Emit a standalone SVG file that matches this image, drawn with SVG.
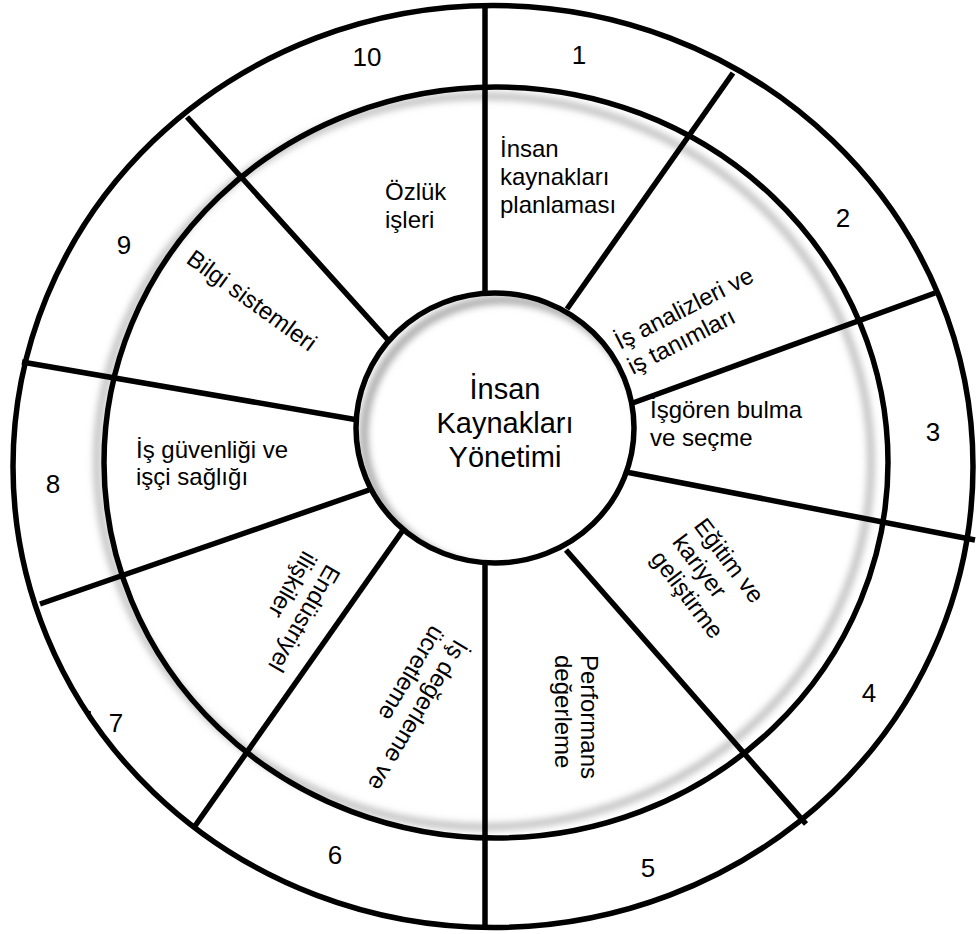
<svg xmlns="http://www.w3.org/2000/svg" width="977" height="934" viewBox="0 0 977 934">
  <style>
    .ring { fill: none; stroke: #000; stroke-width: 5.5; }
    .spoke { stroke: #000; stroke-width: 5.5; stroke-linecap: butt; }
    text { font-family: "Liberation Sans", Arial, Helvetica, sans-serif; fill: #000; }
    .num { font-size: 26px; text-anchor: middle; }
    .lbl { font-size: 24px; }
    .hub { font-size: 29px; text-anchor: middle; }
  </style>
  <defs>
    <filter id="soft" x="-10%" y="-10%" width="120%" height="120%">
      <feGaussianBlur stdDeviation="3.5"/>
    </filter>
    <clipPath id="hubClip">
      <ellipse cx="495" cy="428" rx="139" ry="135"/>
    </clipPath>
  </defs>

  <rect width="977" height="934" fill="#fff"/>

  <!-- rings with a soft drop shadow under the inner one -->
  <g id="rings">
    <ellipse cx="484" cy="461.5" rx="387" ry="365.5" fill="none" stroke="#bdbdbd" stroke-width="7" filter="url(#soft)"/>
    <ellipse class="ring" cx="493" cy="466.5" rx="480" ry="461"/>
    <ellipse class="ring" cx="496" cy="462.5" rx="392" ry="375.5"/>
  </g>

  <!-- spokes between the ten areas -->
  <g id="connectors">
    <line class="spoke" x1="485" y1="5" x2="485" y2="294"/>
    <line class="spoke" x1="733" y1="73" x2="567" y2="309"/>
    <line class="spoke" x1="935" y1="293" x2="630" y2="404"/>
    <line class="spoke" x1="975" y1="540" x2="626" y2="472"/>
    <line class="spoke" x1="806" y1="824" x2="566" y2="550"/>
    <line class="spoke" x1="485" y1="562" x2="485" y2="928"/>
    <line class="spoke" x1="195" y1="826" x2="403" y2="530"/>
    <line class="spoke" x1="40" y1="604" x2="369" y2="490"/>
    <line class="spoke" x1="22" y1="362" x2="358" y2="420"/>
    <line class="spoke" x1="187" y1="117" x2="389" y2="341"/>
    <line x1="90" y1="711" x2="89" y2="718" stroke="#000" stroke-width="2"/>
  </g>

  <!-- central hub with an inner shadow on its upper left -->
  <g id="hub">
    <ellipse cx="495" cy="428" rx="139" ry="135" fill="#fff"/>
    <g clip-path="url(#hubClip)">
      <ellipse cx="503" cy="435" rx="139" ry="135" fill="none" stroke="#a8a8a8" stroke-width="8" filter="url(#soft)"/>
    </g>
    <ellipse class="ring" cx="495" cy="428" rx="139" ry="135"/>
    <text class="hub" x="505" y="399">İnsan</text>
    <text class="hub" x="505" y="433">Kaynakları</text>
    <text class="hub" x="505" y="467">Yönetimi</text>
  </g>

  <g id="area-1">
    <text class="lbl" x="500" y="157">İnsan</text>
    <text class="lbl" x="500" y="185">kaynakları</text>
    <text class="lbl" x="500" y="213">planlaması</text>
    <text class="num" x="579" y="64">1</text>
  </g>

  <g id="area-2">
    <g transform="translate(620,350) rotate(-27)">
      <text class="lbl" x="0" y="0">İş analizleri ve</text>
      <text class="lbl" x="0" y="28">iş tanımları</text>
    </g>
    <text class="num" x="843" y="227">2</text>
  </g>

  <g id="area-3">
    <text class="lbl" x="650" y="418">İşgören bulma</text>
    <text class="lbl" x="650" y="446">ve seçme</text>
    <text class="num" x="933" y="441">3</text>
  </g>

  <g id="area-4">
    <g transform="translate(693,526) rotate(53)">
      <text class="lbl" x="0" y="0">Eğitim ve</text>
      <text class="lbl" x="0" y="27">kariyer</text>
      <text class="lbl" x="0" y="54">geliştirme</text>
    </g>
    <text class="num" x="869" y="702">4</text>
  </g>

  <g id="area-5">
    <g transform="translate(581,655) rotate(90)">
      <text class="lbl" x="0" y="0">Performans</text>
      <text class="lbl" x="0" y="26">değerleme</text>
    </g>
    <text class="num" x="648" y="877">5</text>
  </g>

  <g id="area-6">
    <g transform="translate(455,638) rotate(121)">
      <text class="lbl" x="0" y="0">İş değerleme ve</text>
      <text class="lbl" x="0" y="27">ücretleme</text>
    </g>
    <text class="num" x="335" y="864">6</text>
  </g>

  <g id="area-7">
    <g transform="translate(327,563) rotate(120)">
      <text class="lbl" x="0" y="0">Endüstriyel</text>
      <text class="lbl" x="0" y="27">ilişkiler</text>
    </g>
    <text class="num" x="116" y="732">7</text>
  </g>

  <g id="area-8">
    <text class="lbl" x="136" y="458">İş güvenliği ve</text>
    <text class="lbl" x="136" y="485">işçi sağlığı</text>
    <text class="num" x="53" y="493">8</text>
  </g>

  <g id="area-9">
    <g transform="translate(185,262) rotate(36)">
      <text class="lbl" x="0" y="0">Bilgi sistemleri</text>
    </g>
    <text class="num" x="124" y="254">9</text>
  </g>

  <g id="area-10">
    <text class="lbl" x="385" y="200">Özlük</text>
    <text class="lbl" x="385" y="228">işleri</text>
    <text class="num" x="367" y="66">10</text>
  </g>
</svg>
